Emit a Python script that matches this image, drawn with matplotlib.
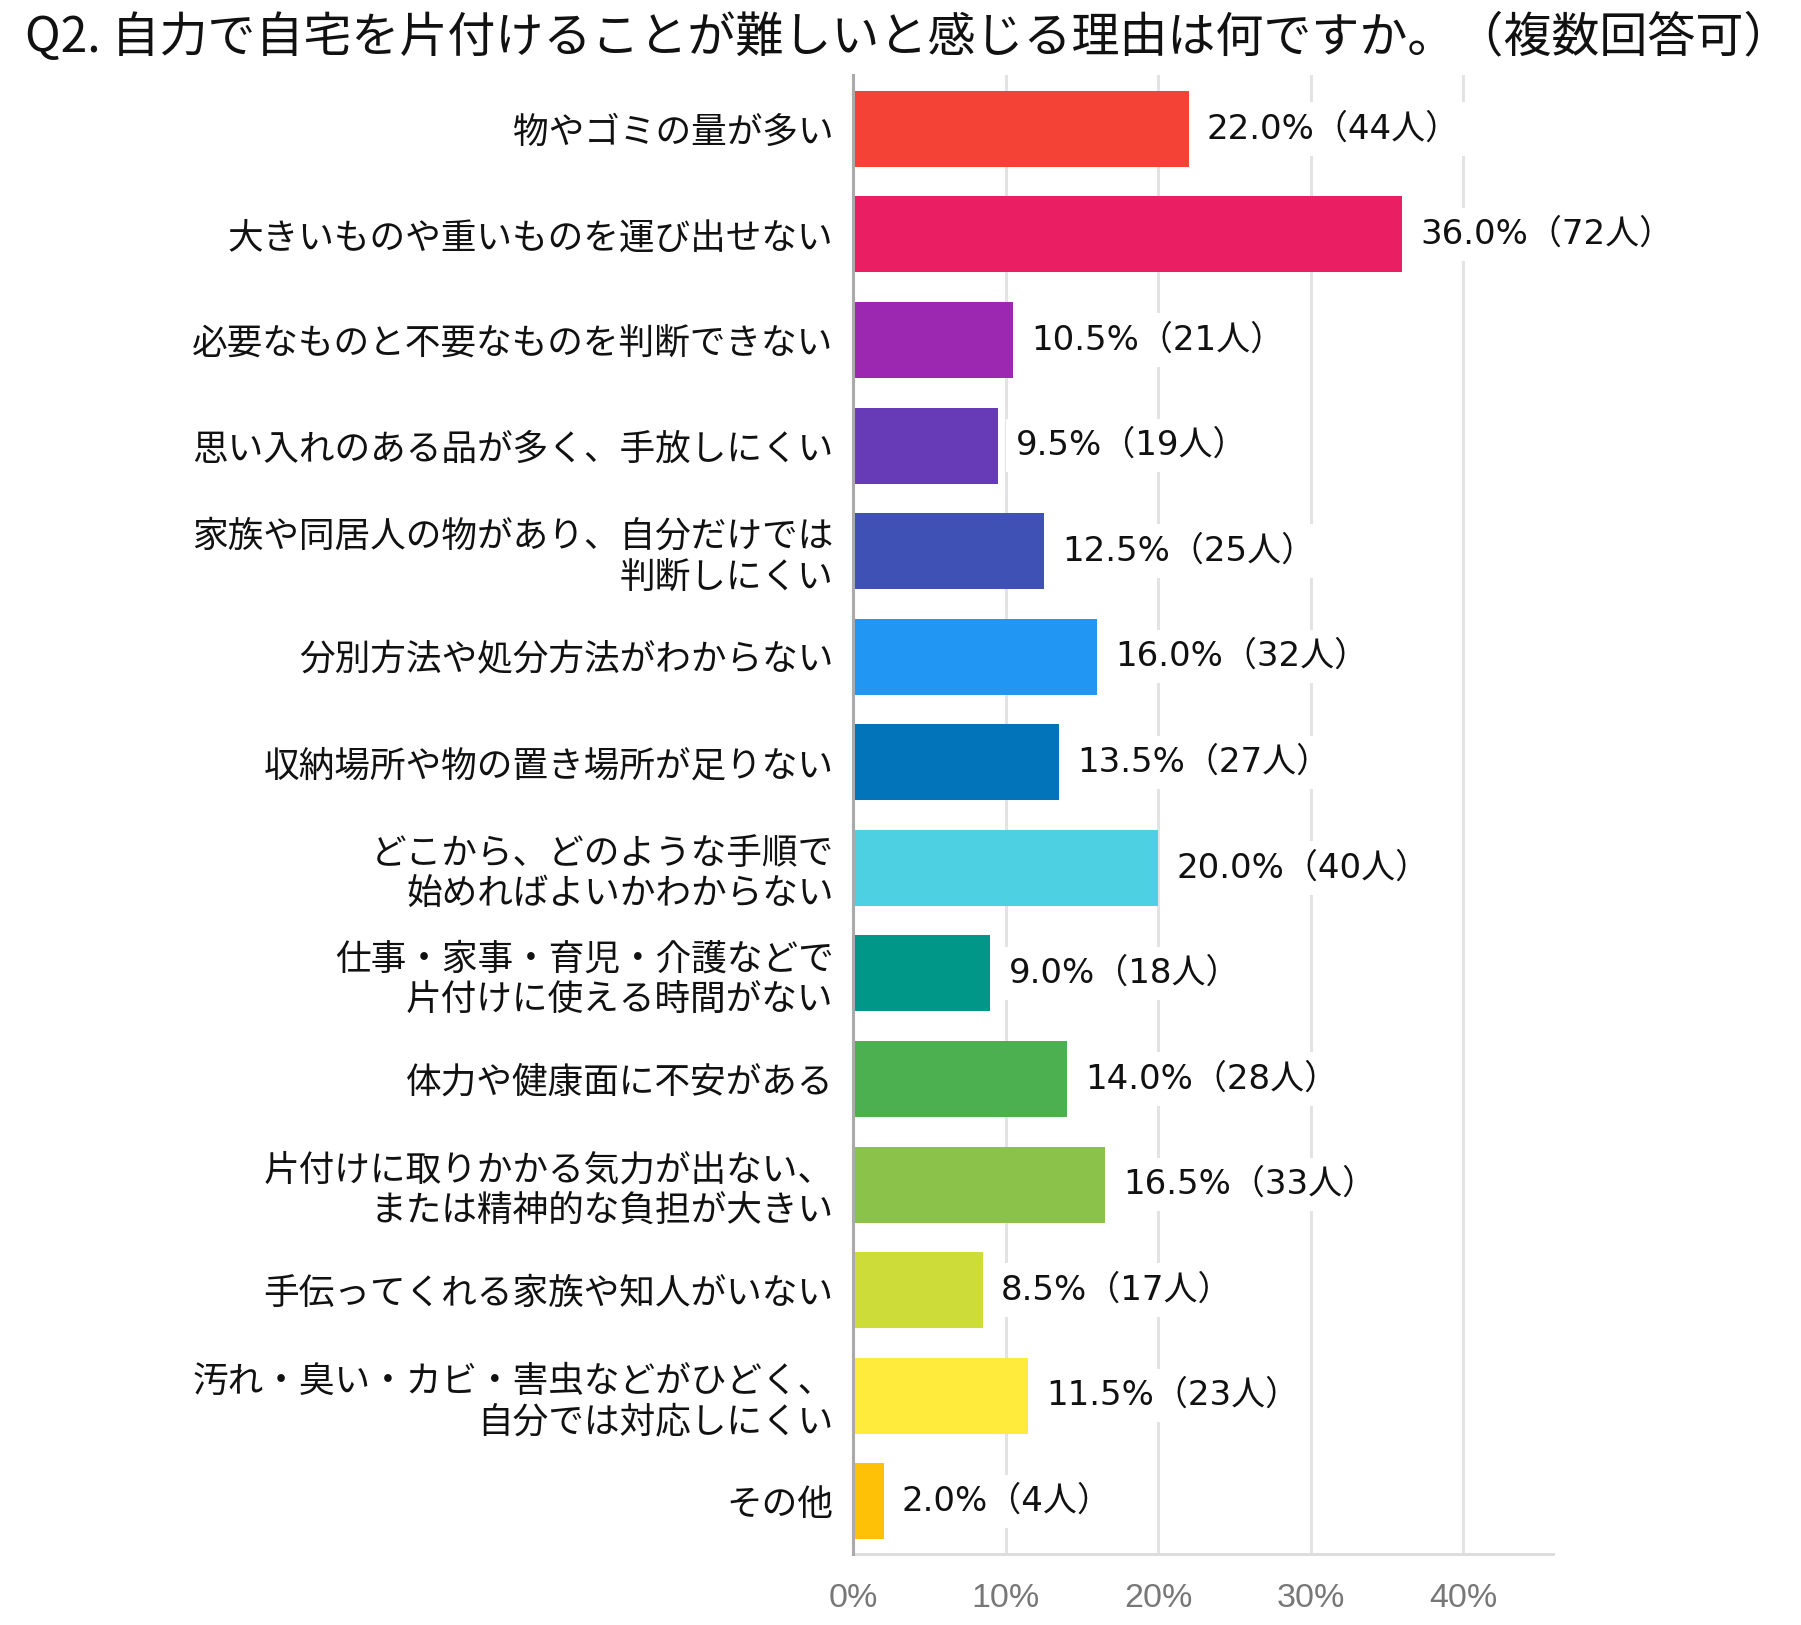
import matplotlib.pyplot as plt

plt.rcParams['font.family'] = ['Noto Sans CJK JP', 'DejaVu Sans']

TITLE = "Q2. 自力で自宅を片付けることが難しいと感じる理由は何ですか。（複数回答可）"

categories = [
    "物やゴミの量が多い",
    "大きいものや重いものを運び出せない",
    "必要なものと不要なものを判断できない",
    "思い入れのある品が多く、手放しにくい",
    "家族や同居人の物があり、自分だけでは\n判断しにくい",
    "分別方法や処分方法がわからない",
    "収納場所や物の置き場所が足りない",
    "どこから、どのような手順で\n始めればよいかわからない",
    "仕事・家事・育児・介護などで\n片付けに使える時間がない",
    "体力や健康面に不安がある",
    "片付けに取りかかる気力が出ない、\nまたは精神的な負担が大きい",
    "手伝ってくれる家族や知人がいない",
    "汚れ・臭い・カビ・害虫などがひどく、\n自分では対応しにくい",
    "その他",
]
shares = [22.0, 36.0, 10.5, 9.5, 12.5, 16.0, 13.5, 20.0, 9.0, 14.0, 16.5, 8.5, 11.5, 2.0]
counts = [44, 72, 21, 19, 25, 32, 27, 40, 18, 28, 33, 17, 23, 4]
colors = ["#F44336", "#E91E63", "#9C27B0", "#673AB7", "#3F51B5", "#2196F3", "#0274BA",
          "#4DD0E1", "#009688", "#4CAF50", "#8BC34A", "#CDDC39", "#FFEB3B", "#FFC107"]
xticks = [0, 10, 20, 30, 40]
xtick_labels = ["0%", "10%", "20%", "30%", "40%"]

fig = plt.figure(figsize=(18.01, 16.25), dpi=100)
ax = fig.add_axes([853 / 1801, 1 - 1554 / 1625, 700 / 1801, (1554 - 75) / 1625])

pos = list(range(len(categories)))
ax.barh(pos, shares, height=0.72, color=colors, zorder=2)

# value labels: wide latin digits, CJK for the brackets and 人
for y, v, n in zip(pos, shares, counts):
    ax.text(v + 1.2, y, f"{v:.1f}%（{n}人）", va='center', ha='left', fontsize=24.5,
            color='#111111', zorder=3, family=['DejaVu Sans', 'Noto Sans CJK JP'],
            bbox=dict(boxstyle='square,pad=0.3', fc='white', ec='none'))

ax.set_xlim(0, 45.9)
ax.set_ylim(13.5, -0.51)
ax.set_yticks(pos)
ax.set_yticklabels(categories, fontsize=25.7, color='#111111')
for t in ax.get_yticklabels():
    t.set_linespacing(1.15)
ax.tick_params(axis='y', length=0, pad=14)

ax.set_xticks(xticks)
ax.set_xticklabels(xtick_labels, fontsize=24.5, color='#777777', family='Liberation Sans')
ax.tick_params(axis='x', length=0, pad=21)

ax.grid(axis='x', color='#e3e3e3', linewidth=2.2, zorder=0)
ax.set_axisbelow(True)
for side in ['top', 'right']:
    ax.spines[side].set_visible(False)
ax.spines['left'].set_color('#aaaaaa')
ax.spines['left'].set_linewidth(2.2)
ax.spines['left'].set_zorder(4)
ax.spines['bottom'].set_color('#dddddd')
ax.spines['bottom'].set_linewidth(2.2)

fig.text(25 / 1801, 1 - 38 / 1625, TITLE, ha='left', va='center', fontsize=34.6, color='#111111')

fig.savefig("out.png", dpi=100)
